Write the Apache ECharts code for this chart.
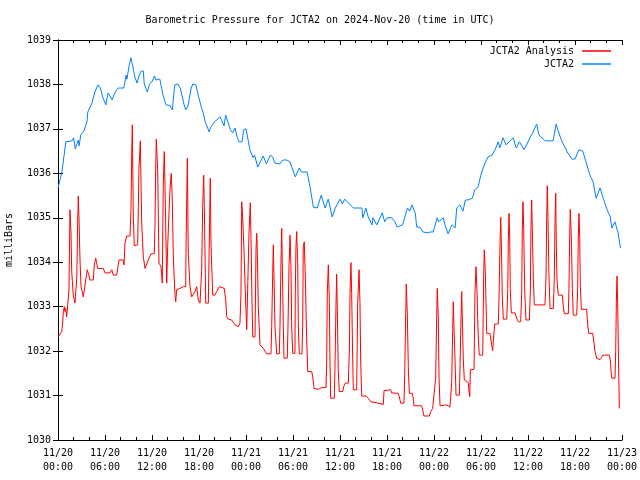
<!DOCTYPE html>
<html>
<head>
<meta charset="utf-8">
<script src="https://cdn.jsdelivr.net/npm/echarts@6/dist/echarts.min.js"></script>
<style>html,body{margin:0;padding:0;background:#fff}#c{width:640px;height:480px}</style>
</head>
<body>
<div id="c"></div>
<script>
// Hours since 2024-11-20 00:00 UTC, pressure in millibars
var seriesNames = ['JCTA2 Analysis', 'JCTA2'];
var yTicks = [1030, 1031, 1032, 1033, 1034, 1035, 1036, 1037, 1038, 1039];
var xTickHours = [0, 6, 12, 18, 24, 30, 36, 42, 48, 54, 60, 66, 72];

var stationObs = [
[0.0,1035.67],[0.5,1036.03],[1.0,1036.71],[1.8,1036.73],[2.0,1036.80],[2.2,1036.55],[2.6,1036.75],[2.7,1036.62],[2.9,1036.86],[3.3,1036.95],
[3.7,1037.16],[3.8,1037.38],[4.3,1037.56],[4.7,1037.83],[5.1,1037.99],[5.4,1037.92],[5.7,1037.72],[6.1,1037.54],[6.4,1037.81],[6.9,1037.65],
[7.3,1037.83],[7.7,1037.92],[8.4,1037.92],[8.7,1038.21],[8.8,1038.12],[9.1,1038.44],[9.3,1038.60],[9.6,1038.37],[9.8,1038.17],[10.1,1038.03],
[10.3,1038.17],[10.6,1038.30],[10.9,1038.30],[11.0,1038.03],[11.2,1037.92],[11.4,1037.83],[11.7,1038.01],[12.0,1038.06],[12.3,1038.19],[12.5,1038.10],
[13.0,1038.12],[13.4,1037.76],[13.8,1037.54],[14.3,1037.52],[14.6,1037.43],[14.9,1037.99],[15.3,1038.01],[15.6,1037.92],[16.1,1037.54],[16.3,1037.43],
[16.6,1037.52],[17.0,1037.92],[17.2,1038.01],[17.6,1037.99],[17.9,1037.76],[18.3,1037.49],[18.5,1037.38],[18.8,1037.16],[19.3,1036.93],[19.5,1037.04],
[20.0,1037.16],[20.7,1037.27],[20.9,1037.27],[21.2,1037.07],[21.4,1037.31],[22.0,1036.98],[22.3,1036.91],[22.6,1037.02],[22.9,1036.80],[23.1,1036.71],
[23.5,1036.71],[23.7,1036.98],[24.0,1037.00],[24.5,1036.53],[24.9,1036.35],[25.1,1036.41],[25.5,1036.14],[26.2,1036.39],[26.6,1036.21],[27.1,1036.41],
[27.4,1036.37],[27.7,1036.23],[28.3,1036.21],[28.7,1036.30],[29.2,1036.30],[29.6,1036.26],[30.3,1035.92],[30.8,1036.12],[31.1,1036.03],[31.8,1036.03],
[32.2,1035.67],[32.6,1035.24],[33.1,1035.22],[33.6,1035.51],[34.1,1035.22],[34.5,1035.42],[35.0,1035.02],[35.4,1035.22],[36.0,1035.42],[36.3,1035.31],
[36.6,1035.42],[37.7,1035.22],[38.8,1035.22],[38.9,1035.00],[39.3,1035.22],[39.6,1035.02],[40.1,1034.84],[40.2,1035.00],[40.7,1034.84],[41.4,1035.11],
[41.7,1034.91],[42.0,1035.00],[42.6,1035.00],[43.0,1034.91],[43.3,1034.79],[44.0,1034.84],[44.6,1035.22],[44.9,1035.15],[45.2,1035.29],[45.6,1035.11],
[45.8,1034.79],[46.2,1034.79],[46.6,1034.68],[47.2,1034.66],[47.5,1034.68],[47.9,1034.68],[48.4,1035.00],[48.6,1034.91],[49.2,1035.00],[49.4,1034.84],
[49.8,1034.64],[50.3,1034.84],[50.7,1034.77],[50.9,1035.22],[51.3,1035.29],[51.7,1035.15],[52.0,1035.40],[52.3,1035.40],[52.9,1035.44],[53.2,1035.63],
[53.6,1035.69],[54.1,1036.03],[54.5,1036.23],[54.9,1036.37],[55.4,1036.41],[55.8,1036.53],[56.2,1036.71],[56.4,1036.57],[56.8,1036.80],[57.2,1036.64],
[57.6,1036.71],[58.1,1036.80],[58.5,1036.57],[58.9,1036.71],[59.5,1036.53],[60.3,1036.82],[60.6,1036.91],[61.1,1037.11],[61.4,1036.86],[62.2,1036.73],
[63.2,1036.73],[63.6,1037.11],[63.8,1036.98],[64.3,1036.73],[65.0,1036.48],[65.6,1036.32],[66.0,1036.32],[66.5,1036.53],[67.0,1036.50],[67.4,1036.26],
[67.9,1035.96],[68.3,1035.81],[68.7,1035.44],[69.2,1035.67],[69.6,1035.44],[70.1,1035.18],[70.5,1035.02],[70.7,1034.77],[71.1,1034.91],[71.5,1034.66],
[71.8,1034.32]
];

var analysis = [
[0.04,1032.32],[0.26,1032.34],[0.47,1032.44],[0.60,1032.63],[0.68,1032.89],[0.80,1033.00],[0.89,1032.89],[0.98,1032.96],[1.11,1032.77],[1.31,1032.77],
[1.40,1033.38],[1.53,1035.18],[1.66,1034.65],[1.75,1033.79],[1.95,1033.26],[2.17,1033.08],[2.39,1033.08],[2.40,1033.67],[2.51,1034.88],[2.59,1035.49],
[2.68,1034.99],[2.81,1034.05],[2.94,1033.45],[3.10,1033.34],[3.23,1033.22],[3.36,1033.38],[3.54,1033.60],[3.74,1033.83],[3.87,1033.75],[4.09,1033.60],
[4.51,1033.60],[4.63,1033.94],[4.81,1034.09],[4.94,1033.98],[5.07,1033.86],[5.78,1033.86],[6.00,1033.76],[6.64,1033.76],[6.86,1033.83],[7.06,1033.71],
[7.49,1033.71],[7.79,1034.05],[8.34,1034.05],[8.43,1033.94],[8.55,1034.43],[8.77,1034.59],[9.19,1034.59],[9.32,1035.21],[9.41,1036.45],[9.49,1037.09],
[9.61,1035.04],[9.74,1034.37],[10.17,1034.39],[10.34,1036.11],[10.51,1036.73],[10.68,1034.91],[10.89,1034.12],[11.11,1033.86],[11.32,1033.86],[11.53,1034.05],
[11.87,1034.19],[12.29,1034.19],[12.38,1034.80],[12.47,1036.08],[12.55,1036.77],[12.73,1036.04],[12.89,1033.98],[13.15,1033.90],[13.24,1033.71],[13.31,1033.53],
[13.44,1035.76],[13.57,1036.49],[13.66,1035.70],[13.88,1033.53],[14.00,1034.35],[14.30,1035.66],[14.46,1036.00],[14.59,1035.40],[14.72,1034.12],[14.94,1033.26],
[15.03,1033.11],[15.15,1033.38],[15.57,1033.41],[16.00,1033.45],[16.30,1033.45],[16.34,1034.20],[16.51,1036.34],[16.63,1034.20],[16.85,1033.45],[17.07,1033.22],
[17.27,1033.22],[17.49,1033.34],[17.71,1033.45],[17.91,1033.15],[18.13,1033.08],[18.34,1033.83],[18.47,1035.25],[18.60,1035.96],[18.68,1035.25],[18.86,1033.08],
[19.19,1033.08],[19.32,1034.50],[19.44,1035.89],[19.53,1034.43],[19.75,1033.26],[20.04,1033.26],[20.26,1033.34],[20.59,1033.45],[20.81,1033.41],[21.23,1033.41],
[21.41,1033.15],[21.54,1032.77],[21.74,1032.72],[22.17,1032.70],[22.38,1032.66],[22.60,1032.59],[22.81,1032.55],[23.02,1032.55],[23.23,1032.63],[23.36,1033.30],
[23.45,1035.36],[23.58,1034.99],[23.74,1034.28],[23.87,1033.56],[24.00,1032.89],[24.09,1032.48],[24.29,1032.48],[24.38,1034.65],[24.55,1035.34],[24.64,1034.54],
[24.77,1033.08],[24.86,1032.32],[25.15,1032.32],[25.28,1034.28],[25.37,1034.65],[25.44,1034.28],[25.57,1033.00],[25.79,1032.14],[26.00,1032.10],[26.21,1032.06],
[26.43,1032.03],[26.64,1031.94],[27.19,1031.94],[27.28,1032.55],[27.41,1033.75],[27.49,1034.39],[27.57,1033.71],[27.70,1032.55],[27.92,1031.94],[28.25,1031.94],
[28.34,1032.55],[28.47,1034.05],[28.56,1034.76],[28.63,1034.01],[28.76,1032.59],[28.85,1031.84],[29.27,1031.84],[29.36,1032.55],[29.49,1033.90],[29.62,1034.61],
[29.74,1033.90],[29.83,1032.59],[29.96,1031.95],[30.25,1031.95],[30.29,1033.30],[30.38,1034.35],[30.47,1034.69],[30.60,1034.01],[30.68,1032.59],[30.80,1031.94],
[31.15,1031.94],[31.24,1032.63],[31.31,1034.35],[31.44,1034.46],[31.57,1033.67],[31.75,1032.25],[31.88,1031.54],[32.39,1031.54],[32.52,1031.42],[32.69,1031.16],
[32.81,1031.13],[33.23,1031.14],[33.45,1031.16],[33.66,1031.18],[34.21,1031.18],[34.30,1031.73],[34.38,1033.30],[34.51,1033.94],[34.63,1033.19],[34.72,1031.80],
[34.81,1030.94],[35.27,1030.94],[35.36,1031.65],[35.49,1033.04],[35.57,1033.73],[35.65,1033.04],[35.78,1031.58],[35.91,1031.09],[36.34,1031.09],[36.51,1031.22],
[36.68,1031.28],[37.06,1031.28],[37.19,1031.95],[37.28,1033.30],[37.40,1033.99],[37.49,1033.30],[37.62,1031.84],[37.70,1031.13],[38.13,1031.13],[38.26,1033.11],
[38.43,1033.83],[38.55,1033.08],[38.64,1031.80],[38.77,1030.99],[39.32,1030.99],[39.61,1030.94],[39.92,1030.86],[40.05,1030.84],[40.60,1030.84],[40.76,1030.80],
[41.53,1030.80],[41.62,1031.11],[41.83,1031.13],[42.47,1031.13],[42.60,1031.06],[43.44,1031.05],[43.57,1030.97],[43.75,1030.83],[44.17,1030.83],[44.26,1031.46],
[44.39,1032.85],[44.46,1033.51],[44.59,1032.85],[44.72,1031.65],[44.85,1031.05],[45.23,1031.05],[45.32,1030.97],[45.45,1030.77],[46.43,1030.77],[46.56,1030.67],
[46.72,1030.54],[47.40,1030.54],[47.58,1030.64],[47.83,1030.71],[48.04,1030.75],[48.21,1031.39],[48.34,1032.74],[48.42,1033.41],[48.55,1032.74],[48.64,1031.42],
[48.77,1030.77],[49.62,1030.79],[49.83,1030.77],[50.04,1030.74],[50.26,1031.31],[50.39,1032.51],[50.46,1033.11],[50.55,1032.55],[50.68,1031.84],[50.81,1031.01],
[51.23,1031.01],[51.32,1031.61],[51.45,1032.77],[51.54,1033.34],[51.61,1032.81],[51.74,1031.82],[51.87,1031.35],[52.38,1031.29],[52.47,1031.09],[52.56,1030.97],
[52.64,1031.58],[53.11,1031.59],[53.23,1033.30],[53.36,1033.90],[53.49,1033.34],[53.62,1032.44],[53.78,1031.91],[54.22,1031.91],[54.34,1033.67],[54.42,1034.28],
[54.55,1033.79],[54.73,1032.40],[55.15,1032.39],[55.37,1032.14],[55.49,1032.01],[55.57,1032.21],[55.75,1032.61],[56.21,1032.61],[56.30,1033.19],[56.43,1034.43],
[56.52,1035.01],[56.60,1034.39],[56.72,1033.22],[56.85,1032.72],[57.29,1032.72],[57.42,1033.41],[57.49,1034.50],[57.58,1035.10],[57.67,1034.50],[57.74,1033.41],
[57.87,1032.86],[58.34,1032.86],[58.56,1032.74],[58.76,1032.66],[59.07,1032.66],[59.20,1033.34],[59.27,1034.73],[59.36,1035.36],[59.45,1034.73],[59.58,1033.38],
[59.74,1032.70],[60.17,1032.70],[60.30,1033.36],[60.38,1034.80],[60.47,1035.40],[60.55,1034.76],[60.68,1033.64],[60.81,1033.04],[62.17,1033.04],[62.30,1033.67],
[62.39,1035.02],[62.46,1035.72],[62.55,1034.99],[62.68,1033.67],[62.81,1032.96],[63.23,1032.96],[63.36,1033.64],[63.45,1034.91],[63.54,1035.55],[63.61,1034.43],
[63.70,1033.60],[63.87,1033.26],[64.38,1033.26],[64.51,1033.00],[64.64,1032.84],[65.15,1032.84],[65.23,1033.41],[65.32,1034.57],[65.40,1035.19],[65.53,1034.57],
[65.66,1033.41],[65.78,1032.81],[66.22,1032.81],[66.34,1033.41],[66.42,1034.57],[66.51,1035.10],[66.60,1034.57],[66.68,1033.49],[66.81,1032.94],[67.49,1032.94],
[67.62,1032.59],[67.75,1032.40],[68.26,1032.40],[68.43,1032.18],[68.55,1031.99],[68.77,1031.84],[69.19,1031.81],[69.40,1031.86],[69.53,1031.91],[70.38,1031.91],
[70.51,1031.80],[70.60,1031.54],[70.69,1031.39],[71.11,1031.39],[71.20,1032.03],[71.28,1033.11],[71.36,1033.69],[71.45,1033.08],[71.53,1032.10],[71.66,1030.71]
];

var FONT = '"DejaVu Sans Mono", "Liberation Mono", monospace';
function pad(n){ return (n < 10 ? '0' : '') + n; }
function xLabel(h){
  var day = 20 + Math.floor(h / 24);
  var hr = h % 24;
  return '11/' + day + '\n' + pad(hr) + ':00';
}

var chart = echarts.init(document.getElementById('c'), null, {renderer: 'canvas'});
var axisLineStyle = {color: '#000', width: 1};
chart.setOption({
  animation: false,
  backgroundColor: '#fff',
  title: {
    text: 'Barometric Pressure for JCTA2 on 2024-Nov-20 (time in UTC)',
    left: 'center', top: 10,
    textStyle: {fontFamily: FONT, fontSize: 10, fontWeight: 'normal', color: '#000'}
  },
  legend: {
    data: seriesNames,
    orient: 'vertical',
    right: 24, top: 40,
    align: 'right',
    icon: 'rect',
    itemWidth: 29, itemHeight: 1.5, itemGap: 1,
    textStyle: {fontFamily: FONT, fontSize: 10, color: '#000', lineHeight: 12, padding: [0, 3, 0, 0]}
  },
  grid: {left: 58, right: 18, top: 40, bottom: 40, containLabel: false, outerBoundsMode: 'none'},
  xAxis: [{
    type: 'value', min: xTickHours[0], max: xTickHours[xTickHours.length - 1], interval: 6,
    position: 'bottom',
    axisLine: {show: true, lineStyle: axisLineStyle},
    axisTick: {show: true, inside: true, length: 5, lineStyle: axisLineStyle},
    minorTick: {show: true, splitNumber: 3, length: 3, lineStyle: axisLineStyle},
    splitLine: {show: false},
    axisLabel: {formatter: xLabel, fontFamily: FONT, fontSize: 10, color: '#000', lineHeight: 14, margin: 6}
  }, {
    type: 'value', min: xTickHours[0], max: xTickHours[xTickHours.length - 1], interval: 6,
    position: 'top',
    axisLine: {show: true, lineStyle: axisLineStyle},
    axisTick: {show: true, inside: true, length: 5, lineStyle: axisLineStyle},
    minorTick: {show: true, splitNumber: 3, length: 3, lineStyle: axisLineStyle},
    splitLine: {show: false},
    axisLabel: {show: false}
  }],
  yAxis: [{
    type: 'value', min: yTicks[0], max: yTicks[yTicks.length - 1], interval: 1,
    position: 'left',
    name: 'milliBars', nameLocation: 'middle', nameGap: 44, nameRotate: 90,
    nameTextStyle: {fontFamily: FONT, fontSize: 10, color: '#000'},
    axisLine: {show: true, lineStyle: axisLineStyle},
    axisTick: {show: true, inside: true, length: 5, lineStyle: axisLineStyle},
    splitLine: {show: false},
    axisLabel: {fontFamily: FONT, fontSize: 10, color: '#000', margin: 7, formatter: function(v){ return String(v); }}
  }, {
    type: 'value', min: yTicks[0], max: yTicks[yTicks.length - 1], interval: 1,
    position: 'right',
    axisLine: {show: true, lineStyle: axisLineStyle},
    axisTick: {show: true, inside: true, length: 5, lineStyle: axisLineStyle},
    splitLine: {show: false},
    axisLabel: {show: false}
  }],
  series: [{
    name: seriesNames[0], type: 'line', data: analysis,
    xAxisIndex: 0, yAxisIndex: 0,
    symbol: 'none', lineStyle: {color: '#ff0000', width: 1}, itemStyle: {color: '#ff0000'}
  }, {
    name: seriesNames[1], type: 'line', data: stationObs,
    xAxisIndex: 0, yAxisIndex: 0,
    symbol: 'none', lineStyle: {color: '#0080ff', width: 1}, itemStyle: {color: '#0080ff'}
  }]
});
</script>
</body>
</html>
